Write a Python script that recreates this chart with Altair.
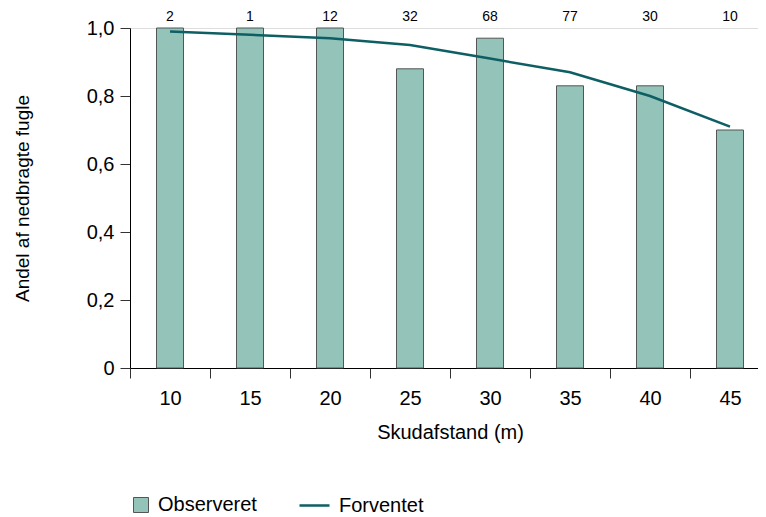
import altair as alt
import pandas as pd

distances = ["10", "15", "20", "25", "30", "35", "40", "45"]
observed = [1.0, 1.0, 1.0, 0.88, 0.97, 0.83, 0.83, 0.70]
expected = [0.99, 0.98, 0.97, 0.95, 0.91, 0.87, 0.80, 0.71]
counts = ["2", "1", "12", "32", "68", "77", "30", "10"]

df = pd.DataFrame({
    "d": distances,
    "obs": observed,
    "exp": expected,
    "n": counts,
    "s_obs": ["Observeret"] * len(distances),
    "s_exp": ["Forventet"] * len(distances),
})

FONT = "Liberation Sans"

x_enc = alt.X(
    "d:N",
    sort=distances,
    title="Skudafstand (m)",
    scale=alt.Scale(paddingInner=0, paddingOuter=0),
    axis=alt.Axis(
        labelAngle=0, tickBand="extent", tickSize=10, tickColor="#333333",
        domainColor="#000000", labelFontSize=20, labelPadding=10,
        titleFontSize=20, titleFontWeight="normal", titlePadding=14, titleX=320,
        labelFont=FONT, titleFont=FONT, labelColor="#000000", titleColor="#000000",
    ),
)

y_axis = alt.Axis(
    values=[0, 0.2, 0.4, 0.6, 0.8, 1.0],
    labelExpr="datum.value == 0 ? '0' : replace(format(datum.value, '.1f'), '.', ',')",
    tickSize=10, tickColor="#333333", domainColor="#000000", grid=False,
    labelFontSize=20, labelPadding=6, titleFontSize=19, titleFontWeight="normal",
    titlePadding=54, labelFont=FONT, titleFont=FONT,
    labelColor="#000000", titleColor="#000000",
)

bars = alt.Chart(df).mark_bar(size=27, stroke="#555555", strokeWidth=1).encode(
    x=x_enc,
    y=alt.Y("obs:Q", scale=alt.Scale(domain=[0, 1], nice=False),
            title="Andel af nedbragte fugle", axis=y_axis),
    fill=alt.Fill("s_obs:N", scale=alt.Scale(domain=["Observeret"], range=["#93c3b9"]),
                  legend=alt.Legend(title=None, orient="none", legendX=1, legendY=467,
                                    symbolType="square", symbolSize=225,
                                    symbolStrokeColor="#555555", symbolStrokeWidth=1,
                                    labelFontSize=20, labelFont=FONT, labelOffset=7,
                                    padding=0, labelColor="#000000")),
)

line = alt.Chart(df).mark_line(color="#0d5f64", strokeWidth=2.5).encode(
    x=alt.X("d:N", sort=distances),
    y=alt.Y("exp:Q"),
    stroke=alt.Stroke("s_exp:N", scale=alt.Scale(domain=["Forventet"], range=["#0d5f64"]),
                      legend=alt.Legend(title=None, orient="none", legendX=168, legendY=461,
                                        symbolType="stroke", symbolSize=900,
                                        symbolStrokeWidth=2.5,
                                        labelFontSize=20, labelFont=FONT, labelOffset=8,
                                        padding=0, labelColor="#000000")),
)

labels = alt.Chart(df).mark_text(fontSize=14, font=FONT, color="#000000", baseline="alphabetic").encode(
    x=alt.X("d:N", sort=distances),
    y=alt.value(-7),
    text="n:N",
)

chart = alt.layer(bars, line, labels).resolve_legend(fill="independent", stroke="independent").properties(
    width=640, height=340,
    autosize=alt.AutoSizeParams(type="none"),
    padding={"left": 122, "top": 20, "right": -12, "bottom": 150},
).configure_view(stroke="#000000", strokeWidth=1).configure(background="white")

chart.save("out.html", embed_options={"renderer": "svg", "actions": False})
